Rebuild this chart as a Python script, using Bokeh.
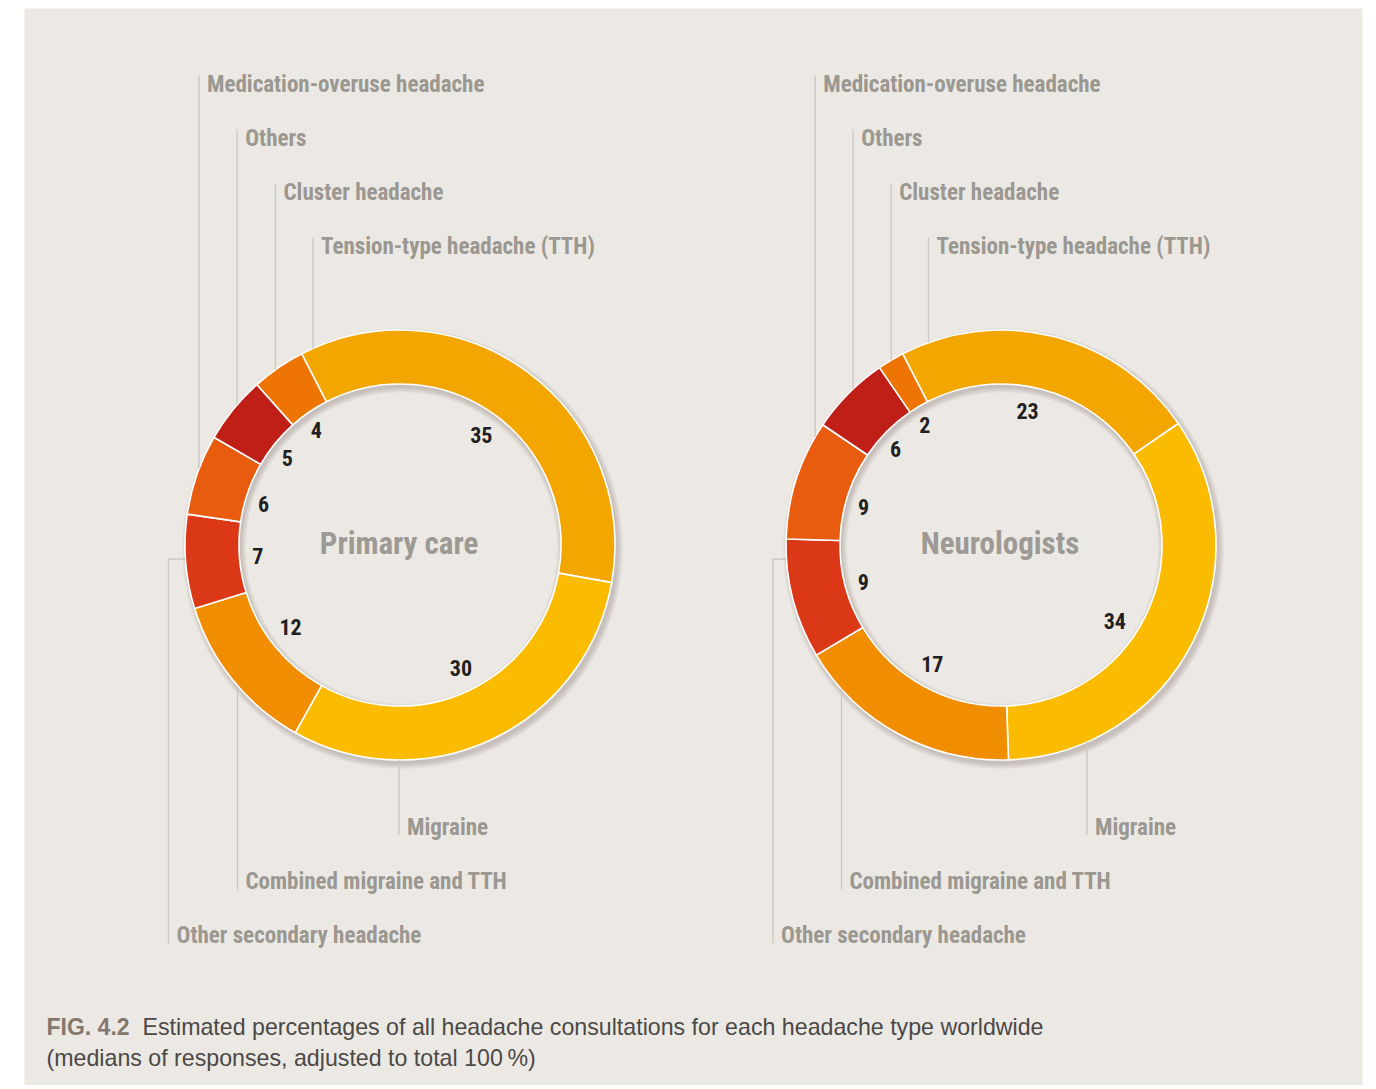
import math
from bokeh.plotting import figure
from bokeh.models import Range1d
from bokeh.core.properties import value
from bokeh.embed import file_html
from bokeh.resources import INLINE

# ---------------- data ----------------
categories = ["Tension-type headache (TTH)", "Migraine", "Combined migraine and TTH",
              "Other secondary headache", "Medication-overuse headache", "Others",
              "Cluster headache"]
primary_care = [35, 30, 12, 7, 6, 5, 4]
neurologists = [23, 34, 17, 9, 9, 6, 2]
chart_titles = ["Primary care", "Neurologists"]
caption_fig = "FIG. 4.2"
caption_line1 = "Estimated percentages of all headache consultations for each headache type worldwide"
caption_line2 = "(medians of responses, adjusted to total 100\u2009%)"

# ---------------- styles / layout ----------------
colors = ["#F4A600", "#FABB00", "#F08D00", "#DA3816", "#E85C10", "#C01F18", "#EE7404"]
BG = "#ECE9E4"
LABEL_COL = "#9B9791"
LEADER_COL = "#CBC7C1"
NUM_COL = "#231F20"
NARROW = value("Roboto Condensed, Noto Sans Condensed, DejaVu Sans Condensed, sans-serif")
SANS = value("Liberation Sans")

W, H = 1370, 1085
p = figure(width=W, height=H, x_range=Range1d(0, W), y_range=Range1d(-H, 0),
           output_backend="svg", toolbar_location=None, min_border=0)
p.axis.visible = False
p.grid.visible = False
p.outline_line_color = None
p.background_fill_color = "white"
p.border_fill_color = "white"


def Y(y):
    return -y


# panel
p.quad(left=24, right=1362, top=Y(8), bottom=Y(1100), fill_color=BG, line_color=None)

R_OUT, R_IN = 215, 161
START = -27.2  # degrees clockwise from 12 o'clock
centers = [(399.5, 544.5), (1000.5, 544.5)]
leader_x = [[312.5, 398.5, 237, 168, 198.5, 236.7, 275],
            [928, 1086.5, 841, 772.5, 814.7, 852.7, 890.7]]
label_mid = [245.5, 826.5, 881, 935, 83.5, 137.5, 191.5]
label_top = [True, False, False, False, True, True, True]
num_shift = [[0, -1, 2, 0, -2.5, -1.5, -1.5],
             [-3, 7, 1.5, -0.5, -2.5, -2.5, -1.5]]
ELBOW_DY = 14


def math_ang(theta_deg):
    return math.radians(90 - theta_deg)


for ci, vals in enumerate([primary_care, neurologists]):
    cx, cy = centers[ci]
    total = float(sum(vals))

    for k in range(6):
        p.annulus(x=cx + 2.5, y=Y(cy + 3.5), inner_radius=R_IN + 12, outer_radius=R_OUT + 0.5 + k,
                  fill_color="#3A2A1A", fill_alpha=0.035, line_color=None)
    for k in range(6):
        p.annulus(x=cx + 1.5, y=Y(cy + 3.0), inner_radius=R_IN - k - 0.5, outer_radius=R_OUT - 8,
                  fill_color="#3A2A1A", fill_alpha=0.035, line_color=None)

    starts, ends, mids = [], [], []
    a = START
    for v in vals:
        span = v / total * 360.0
        starts.append(math_ang(a))
        ends.append(math_ang(a + span))
        mids.append(a + span / 2)
        a += span

    p.annular_wedge(x=[cx] * len(vals), y=[Y(cy)] * len(vals), inner_radius=R_IN, outer_radius=R_OUT,
                    start_angle=starts, end_angle=ends, direction="clock",
                    fill_color=colors, line_color="white", line_width=1.6)

    nx, ny, nt = [], [], []
    for i, v in enumerate(vals):
        t = str(v)
        rr = 148 - 5.5 * len(t)
        th = math.radians(mids[i] + num_shift[ci][i])
        nx.append(cx + rr * math.sin(th))
        ny.append(Y(cy - rr * math.cos(th)))
        nt.append(t)
    p.text(x=nx, y=ny, text=nt, text_font=NARROW, text_font_style="bold", text_font_size="22px",
           text_color=NUM_COL, text_align="center", text_baseline="middle")

    p.text(x=[cx - 1], y=[Y(543)], text=[chart_titles[ci]], text_font=NARROW, text_font_style="bold",
           text_font_size="31px", text_color="#9D9A95", text_align="center", text_baseline="middle")

    xs, ys = [], []
    lx, ly, lt = [], [], []
    for i, cat in enumerate(categories):
        x = leader_x[ci][i]
        m = label_mid[i]
        dx = x - cx
        if label_top[i]:
            y_end = cy - math.sqrt(R_OUT ** 2 - dx ** 2)
            xs.append([x, x])
            ys.append([Y(m - 8.5), Y(y_end)])
        else:
            if abs(dx) < R_OUT - 2:
                y_start = cy + math.sqrt(R_OUT ** 2 - dx ** 2)
                xs.append([x, x])
                ys.append([Y(y_start), Y(m + 8)])
            else:
                ey = cy + ELBOW_DY
                ex = cx - math.sqrt(R_OUT ** 2 - ELBOW_DY ** 2)
                xs.append([ex, x, x])
                ys.append([Y(ey), Y(ey), Y(m + 8)])
        lx.append(x + 8)
        ly.append(Y(m))
        lt.append(cat)
    p.multi_line(xs=xs, ys=ys, line_color=LEADER_COL, line_width=1.3)
    p.text(x=lx, y=ly, text=lt, text_font=NARROW, text_font_style="bold", text_font_size="23px",
           text_color=LABEL_COL, text_align="left", text_baseline="middle")

p.text(x=[46], y=[Y(1026)], text=[caption_fig], text_font=SANS, text_font_style="bold",
       text_font_size="23px", text_color="#85786F", text_align="left", text_baseline="middle")
p.text(x=[142], y=[Y(1026)], text=[caption_line1], text_font=SANS, text_font_size="23.2px",
       text_color="#4B4846", text_align="left", text_baseline="middle")
p.text(x=[46], y=[Y(1057)], text=[caption_line2], text_font=SANS, text_font_size="23.2px",
       text_color="#4B4846", text_align="left", text_baseline="middle")

open("out.html", "w").write(file_html(p, INLINE))
